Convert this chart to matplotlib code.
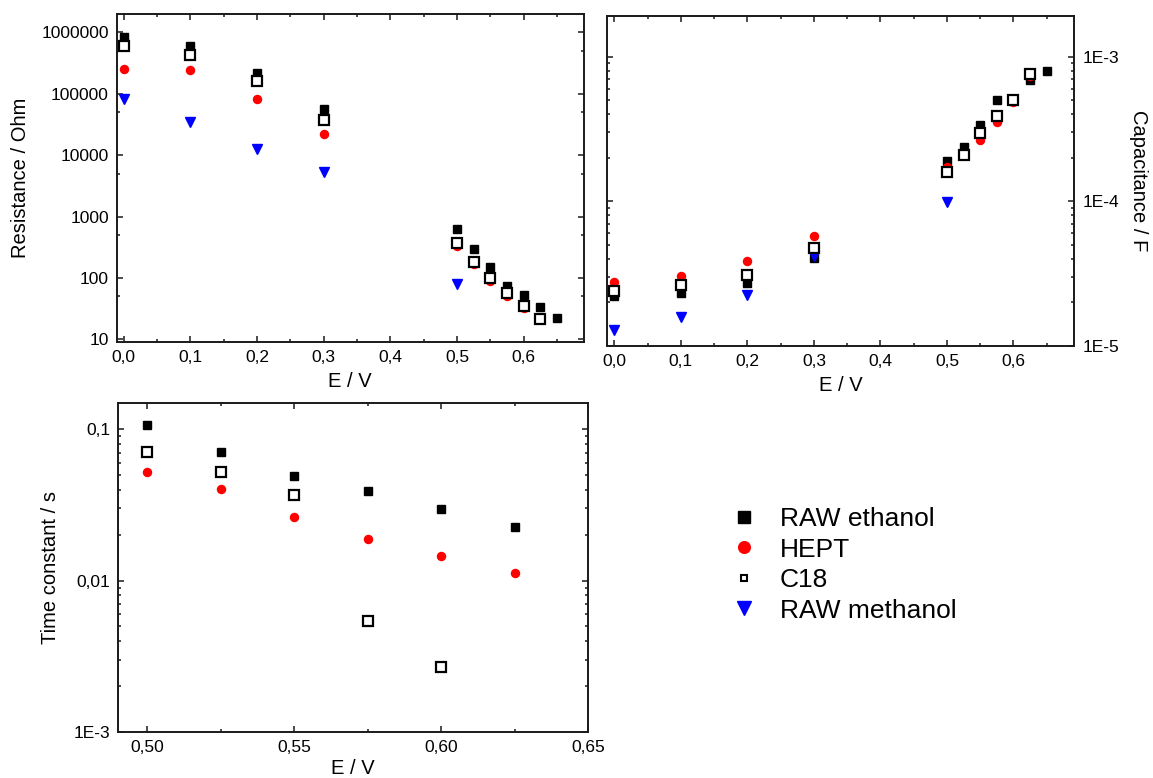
import matplotlib
matplotlib.use("Agg")
import matplotlib.pyplot as plt
from matplotlib.ticker import FixedLocator, FixedFormatter, LogLocator, MultipleLocator, NullFormatter
from matplotlib.lines import Line2D

plt.rcParams['font.family'] = ['Liberation Sans', 'DejaVu Sans']

# potentials (V)
E_full = [0.0, 0.1, 0.2, 0.3, 0.5, 0.525, 0.55, 0.575, 0.6, 0.625, 0.65]
E_hept = [0.0, 0.1, 0.2, 0.3, 0.5, 0.525, 0.55, 0.575, 0.6, 0.625]
E_c18 = [0.0, 0.1, 0.2, 0.3, 0.5, 0.525, 0.55, 0.575, 0.6, 0.625]
E_meth = [0.0, 0.1, 0.2, 0.3, 0.5]

# resistance / Ohm
R_eth = [850000, 600000, 220000, 57000, 620, 293, 152, 75, 53, 34, 22]
R_hept = [250000, 240000, 81000, 22000, 325, 166, 89, 51, 32, 21]
R_c18 = [600000, 430000, 160000, 38000, 375, 184, 98, 56, 35, 21]
R_meth = [81000, 35000, 12600, 5300, 79]

# capacitance / F
C_eth = [2.22e-5, 2.32e-5, 2.70e-5, 4.06e-5, 1.89e-4, 2.37e-4, 3.39e-4, 4.99e-4, 5.1e-4, 6.93e-4, 7.9e-4]
C_hept = [2.74e-5, 3.05e-5, 3.87e-5, 5.75e-5, 1.73e-4, 2.1e-4, 2.67e-4, 3.53e-4, 4.86e-4, 7.4e-4]
C_c18 = [2.39e-5, 2.63e-5, 3.08e-5, 4.71e-5, 1.60e-4, 2.08e-4, 2.97e-4, 3.87e-4, 5.05e-4, 7.6e-4]
C_meth = [1.28e-5, 1.57e-5, 2.26e-5, 4.17e-5, 9.8e-5]

# time constant / s
E_tau = [0.5, 0.525, 0.55, 0.575, 0.6, 0.625]
E_tau_c18 = [0.5, 0.525, 0.55, 0.575, 0.6]
T_eth = [0.107, 0.0705, 0.0491, 0.0391, 0.0297, 0.0227]
T_hept = [0.0525, 0.0403, 0.0264, 0.0189, 0.0145, 0.0113]
T_c18 = [0.0714, 0.0523, 0.0368, 0.0054, 0.00269]

labels = ['RAW ethanol', 'HEPT', 'C18', 'RAW methanol']

sty_eth = dict(ls='none', marker='s', ms=5.2, color='black', mec='black')
sty_hept = dict(ls='none', marker='o', ms=5.8, color='#ff0000', mec='#ff0000')
sty_c18 = dict(ls='none', marker='s', ms=6.6, mfc='white', mec='black', mew=1.6)
sty_meth = dict(ls='none', marker='v', ms=7, color='#0000ff', mec='#0000ff')

fig = plt.figure(figsize=(11.53, 7.78), dpi=100)
ax1 = fig.add_axes([116.5 / 1153, 1 - 342 / 778, 467.5 / 1153, 328 / 778])
ax2 = fig.add_axes([607 / 1153, 1 - 345.7 / 778, 467 / 1153, 330 / 778])
ax3 = fig.add_axes([118 / 1153, 1 - 731.7 / 778, 470 / 1153, 328.4 / 778])


def style(ax):
    for s in ax.spines.values():
        s.set_linewidth(1.4)
        s.set_color('#1a1a1a')
    ax.tick_params(which='both', direction='in', top=True, right=True, width=1.1,
                   labelsize=12.5, color='#1a1a1a')
    ax.tick_params(which='major', length=4.5)
    ax.tick_params(which='minor', length=2.3)
    ax.tick_params(axis='x', which='both', pad=6)
    ax.tick_params(axis='y', which='both', pad=5.5)


def comma(vals, fmt):
    return [fmt.format(v).replace('.', ',') for v in vals]


# top-left: resistance
ax1.plot(E_full, R_eth, **sty_eth)
ax1.plot(E_hept, R_hept, **sty_hept)
ax1.plot(E_meth, R_meth, **sty_meth)
ax1.plot(E_c18, R_c18, **sty_c18)
ax1.set_yscale('log')
ax1.set_xlim(-0.0105, 0.6905)
ax1.set_ylim(9, 2.0e6)
rt = [10, 100, 1000, 10000, 100000, 1000000]
ax1.yaxis.set_major_locator(FixedLocator(rt))
ax1.yaxis.set_major_formatter(FixedFormatter([str(v) for v in rt]))
ax1.yaxis.set_minor_locator(FixedLocator([5 * v for v in rt]))
ax1.yaxis.set_minor_formatter(NullFormatter())
xt = [0.0, 0.1, 0.2, 0.3, 0.4, 0.5, 0.6]
ax1.xaxis.set_major_locator(FixedLocator(xt))
ax1.xaxis.set_major_formatter(FixedFormatter(comma(xt, '{:.1f}')))
ax1.xaxis.set_minor_locator(MultipleLocator(0.05))
style(ax1)
ax1.set_xlabel('E / V', fontsize=14.5, labelpad=5)
ax1.set_ylabel('Resistance / Ohm', fontsize=14.5, labelpad=8)

# top-right: capacitance
ax2.plot(E_full, C_eth, **sty_eth)
ax2.plot(E_hept, C_hept, **sty_hept)
ax2.plot(E_meth, C_meth, **sty_meth)
ax2.plot(E_c18, C_c18, **sty_c18)
ax2.set_yscale('log')
ax2.set_xlim(-0.011, 0.691)
ax2.set_ylim(1e-5, 1.92e-3)
ct = [1e-5, 1e-4, 1e-3]
ax2.yaxis.set_major_locator(FixedLocator(ct))
ax2.yaxis.set_major_formatter(FixedFormatter(['1E-5', '1E-4', '1E-3']))
ax2.yaxis.set_minor_locator(LogLocator(base=10, subs=range(2, 10)))
ax2.yaxis.set_minor_formatter(NullFormatter())
ax2.xaxis.set_major_locator(FixedLocator(xt))
ax2.xaxis.set_major_formatter(FixedFormatter(comma(xt, '{:.1f}')))
ax2.xaxis.set_minor_locator(MultipleLocator(0.05))
style(ax2)
ax2.tick_params(axis='y', which='both', labelleft=False, labelright=True, pad=6.5)
ax2.yaxis.set_label_position('right')
ax2.set_ylabel('Capacitance / F', fontsize=14.5, rotation=270, labelpad=20)
ax2.set_xlabel('E / V', fontsize=14.5, labelpad=5)

# bottom: time constant
ax3.plot(E_tau, T_eth, **sty_eth)
ax3.plot(E_tau, T_hept, **sty_hept)
ax3.plot(E_tau_c18, T_c18, **sty_c18)
ax3.set_yscale('log')
ax3.set_xlim(0.49, 0.65)
ax3.set_ylim(1e-3, 0.149)
tt = [1e-3, 1e-2, 1e-1]
ax3.yaxis.set_major_locator(FixedLocator(tt))
ax3.yaxis.set_major_formatter(FixedFormatter(['1E-3', '0,01', '0,1']))
ax3.yaxis.set_minor_locator(LogLocator(base=10, subs=range(2, 10)))
ax3.yaxis.set_minor_formatter(NullFormatter())
xt3 = [0.50, 0.55, 0.60, 0.65]
ax3.xaxis.set_major_locator(FixedLocator(xt3))
ax3.xaxis.set_major_formatter(FixedFormatter(comma(xt3, '{:.2f}')))
ax3.xaxis.set_minor_locator(MultipleLocator(0.025))
style(ax3)
ax3.set_xlabel('E / V', fontsize=14.5, labelpad=3)
ax3.set_ylabel('Time constant / s', fontsize=14.5, labelpad=10)

leg_eth = dict(sty_eth, ms=8.4)
leg_hept = dict(sty_hept, ms=8.4)
leg_c18 = dict(sty_c18, ms=5, mew=1.5)
leg_meth = dict(sty_meth, ms=9.5)
handles = [Line2D([], [], **leg_eth), Line2D([], [], **leg_hept),
           Line2D([], [], **leg_c18), Line2D([], [], **leg_meth)]
fig.legend(handles, labels, loc='center left', bbox_to_anchor=(0.618, 0.274),
           frameon=False, fontsize=19, labelspacing=0.25, handlelength=1.0,
           handletextpad=0.85, borderpad=0.2)

fig.savefig('out.png', dpi=100)
